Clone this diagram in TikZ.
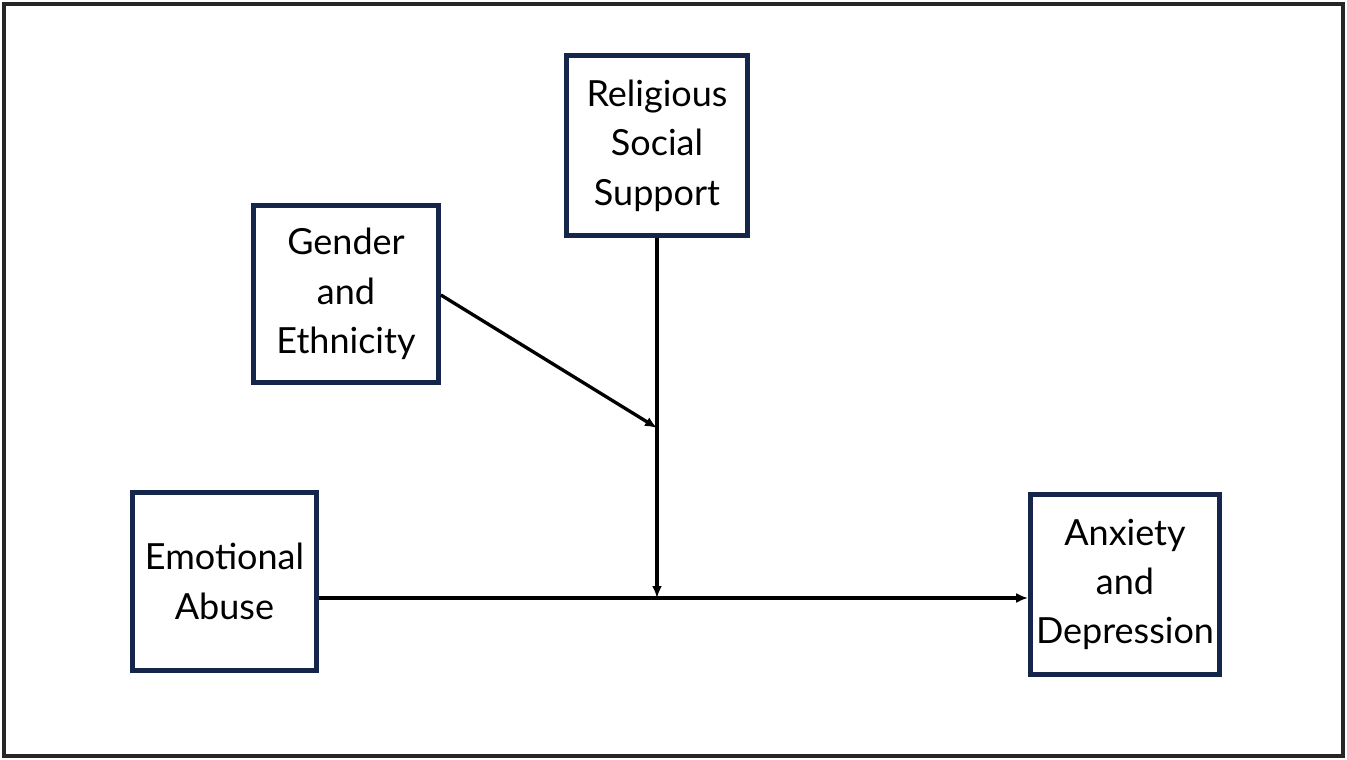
\documentclass[tikz,border=0pt]{standalone}
\usepackage{fontspec}
\setmainfont{Lato}
\usetikzlibrary{arrows.meta,shadows}
\definecolor{navy}{HTML}{15264A}
\begin{document}
\begin{tikzpicture}[x=0.75pt,y=-0.75pt,
  varbox/.style={draw=navy,line width=3.6pt,fill=white,align=center,
    font=\fontsize{27pt}{37pt}\selectfont,inner sep=0pt,
    drop shadow={shadow xshift=1.2pt,shadow yshift=-1.2pt,opacity=0.55,fill=black}},
  link/.style={line width=2.5pt,-{Latex[length=9pt,width=7.5pt]}}]
\useasboundingbox (0,0) rectangle (1347,760);
\fill[white] (0,0) rectangle (1347,760);
\draw[line width=3.6pt,black!85] (4,4) rectangle (1343,756);
\node[varbox,minimum width=181.5pt*0.75,minimum height=180pt*0.75] (rss) at (657,145.5) {Religious\\Social\\Support};
\node[varbox,minimum width=185pt*0.75,minimum height=177pt*0.75] (ge) at (346,294) {Gender\\and\\Ethnicity};
\node[varbox,minimum width=184pt*0.75,minimum height=178pt*0.75] (ea) at (224.5,581.5) {Emotional\\Abuse};
\node[varbox,minimum width=189pt*0.75,minimum height=180pt*0.75] (ad) at (1125,584.5) {Anxiety\\and\\Depression};
\coordinate (m1) at (657,428);
\coordinate (m2) at (657,598);
\draw[link] (ea.east |- m2) -- (ad.west |- m2);
\draw[link] (rss.south) -- (m2);
\draw[link] (ge.east |- 0,295) -- (m1);
\end{tikzpicture}
\end{document}
